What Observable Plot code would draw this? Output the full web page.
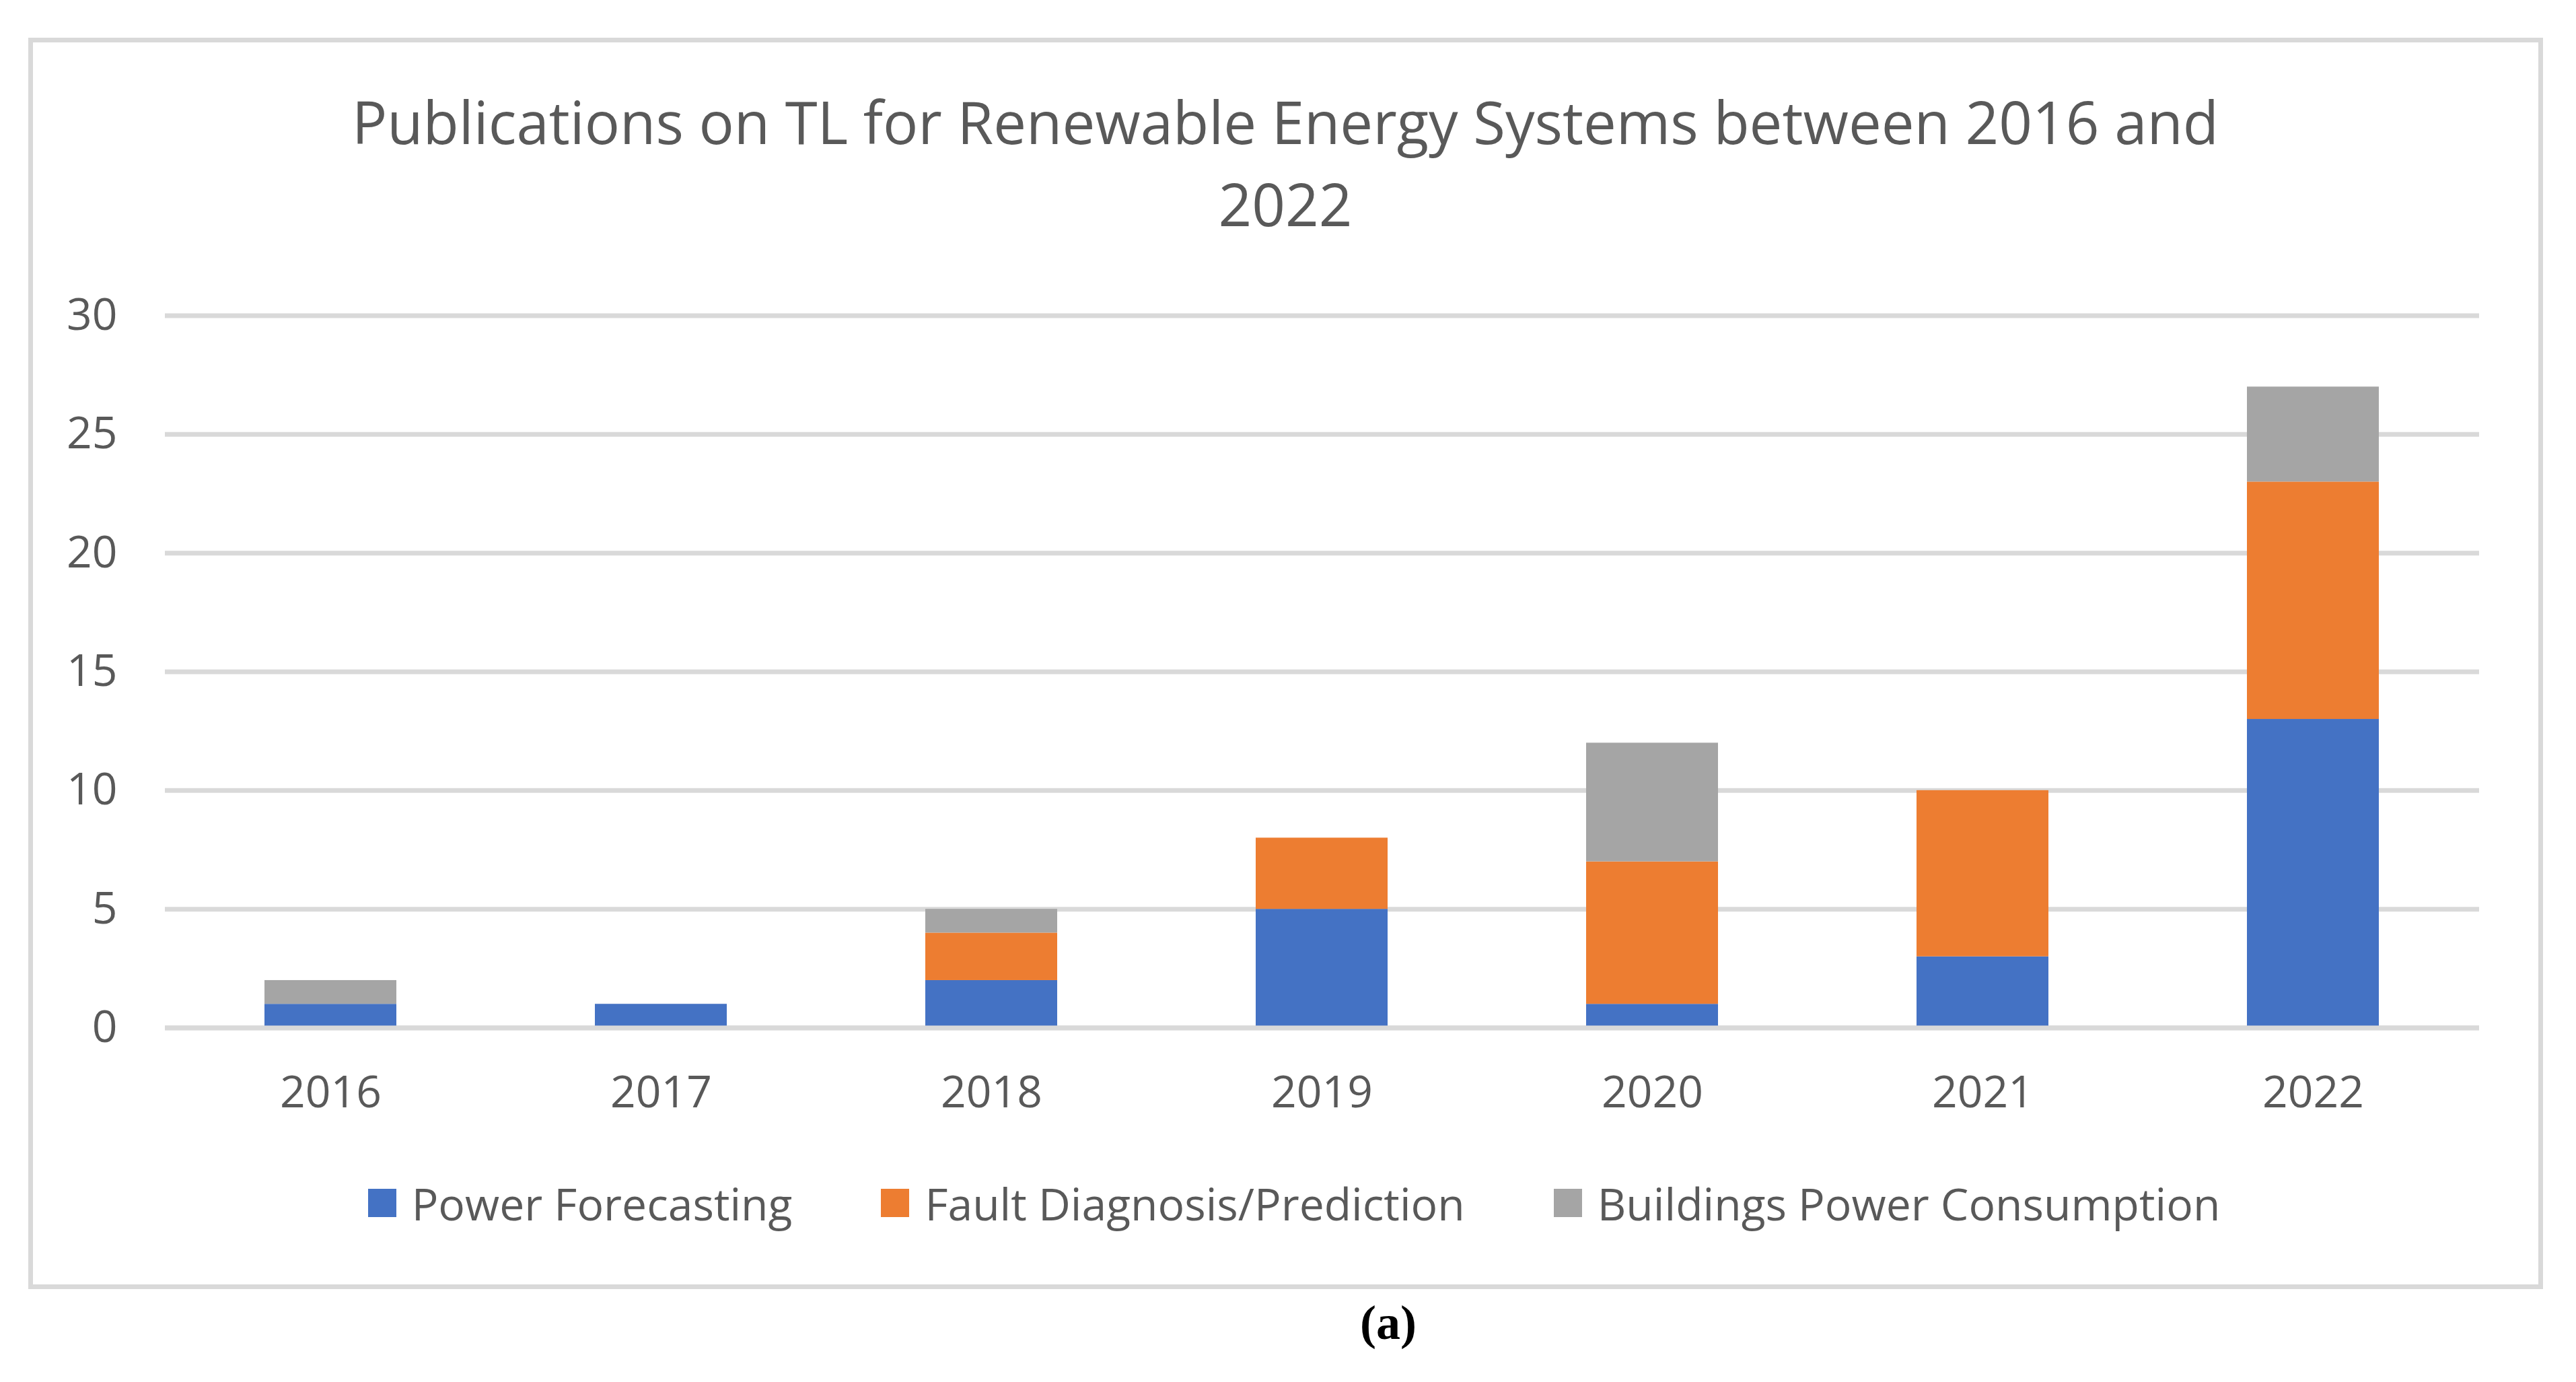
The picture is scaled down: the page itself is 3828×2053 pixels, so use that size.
<!DOCTYPE html>
<html>
<head>
<meta charset="utf-8">
<script src="https://cdn.jsdelivr.net/npm/d3@7"></script>
<script src="https://cdn.jsdelivr.net/npm/@observablehq/plot@0.6"></script>
<style>
  html, body { margin: 0; padding: 0; background: #ffffff; }
  #page { position: relative; width: 3828px; height: 2053px; overflow: hidden; background: #fff; }
  #frame { position: absolute; left: 42px; top: 56px; width: 3737px; height: 1859px; box-sizing: border-box; border: 7px solid #d9d9d9; }
  #title { position: absolute; left: 0; top: 119px; width: 3820px; text-align: center; font-family: "Open Sans", sans-serif; font-size: 87px; line-height: 122px; color: #595959; white-space: nowrap; }
  #chart { position: absolute; left: 0; top: 400px; }
  #legend { position: absolute; left: 18px; width: 3810px; top: 1742px; display: flex; justify-content: center; align-items: center; gap: 132px; font-family: "Open Sans", sans-serif; font-size: 66px; color: #595959; white-space: nowrap; }
  .item { display: flex; align-items: center; }
  .sw { width: 42px; height: 42px; margin-right: 23px; }
  #caption { position: absolute; left: 1863px; width: 400px; top: 1915px; text-align: center; font-family: "Liberation Serif", "Times New Roman", serif; font-weight: bold; font-size: 72px; line-height: 100px; color: #000; }
</style>
</head>
<body>
<div id="page">
  <div id="frame"></div>
  <div id="title"></div>
  <div id="chart"></div>
  <div id="legend"></div>
  <div id="caption">(a)</div>
</div>
<script>
const titleLines = ["Publications on TL for Renewable Energy Systems between 2016 and", "2022"];
const years = ["2016", "2017", "2018", "2019", "2020", "2021", "2022"];
const seriesNames = ["Power Forecasting", "Fault Diagnosis/Prediction", "Buildings Power Consumption"];
const seriesColors = ["#4472C4", "#ED7D31", "#A5A5A5"];
const powerForecasting = [1, 1, 2, 5, 1, 3, 13];
const faultDiagnosis = [0, 0, 2, 3, 6, 7, 10];
const buildingsConsumption = [1, 0, 1, 0, 5, 0, 4];
const yTicks = [0, 5, 10, 15, 20, 25, 30];

const seriesValues = [powerForecasting, faultDiagnosis, buildingsConsumption];
const rows = [];
seriesNames.forEach((name, si) => {
  years.forEach((yr, i) => {
    if (seriesValues[si][i] > 0) rows.push({year: yr, series: name, value: seriesValues[si][i]});
  });
});

document.getElementById("title").innerHTML = titleLines.join("<br>");

const chart = Plot.plot({
  width: 3828,
  height: 1300,
  marginTop: 68.5,
  marginBottom: 173.5,
  marginLeft: 245,
  marginRight: 144,
  style: {fontFamily: "'Open Sans', sans-serif", fontSize: "66px", color: "#595959", background: "transparent", overflow: "visible"},
  x: {domain: years, paddingInner: 0.6, paddingOuter: 0.3, label: null},
  y: {domain: [0, 30], label: null},
  color: {domain: seriesNames, range: seriesColors},
  marks: [
    Plot.ruleY(yTicks, {stroke: "#D9D9D9", strokeWidth: 7}),
    Plot.barY(rows, {x: "year", y: "value", fill: "series", order: seriesNames}),
    Plot.ruleY([0], {stroke: "#D9D9D9", strokeWidth: 7}),
    Plot.axisY(yTicks, {tickSize: 0, tickPadding: 71, label: null, fill: "#595959"}),
    Plot.axisX({tickSize: 0, tickPadding: 71.5, label: null, fill: "#595959"})
  ]
});
document.getElementById("chart").appendChild(chart);

const legend = document.getElementById("legend");
seriesNames.forEach((name, i) => {
  const item = document.createElement("div");
  item.className = "item";
  const sw = document.createElement("div");
  sw.className = "sw";
  sw.style.background = seriesColors[i];
  const label = document.createElement("span");
  label.textContent = name;
  item.appendChild(sw);
  item.appendChild(label);
  legend.appendChild(item);
});
</script>
</body>
</html>
